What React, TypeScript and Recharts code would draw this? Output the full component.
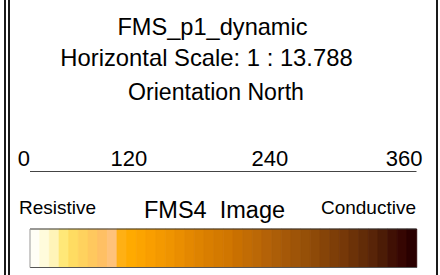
import React from "react";
import { BarChart, Bar, Cell, XAxis, YAxis, ComposedChart, Line } from "recharts";

const titleLines = ["FMS_p1_dynamic", "Horizontal Scale: 1 : 13.788", "Orientation North"];
const scaleTicks = [0, 120, 240, 360];
const legendLeft = "Resistive";
const legendCenter = "FMS4\u00a0 Image";
const legendRight = "Conductive";
const colorBands = [
  "#fffef6", "#fffbdc", "#fff4b8", "#ffe878", "#ffdc62", "#ffd25e", "#ffc85e", "#ffc064",
  "#ffc27a", "#ffb014", "#ffaa00", "#fca400", "#f99e00", "#f49900", "#ef9400", "#ea8e00",
  "#e48800", "#de8300", "#d97e00", "#d47a00", "#d07600", "#c97000", "#c26c04", "#bb6806",
  "#b46208", "#ac5e08", "#a55808", "#9e5408", "#965008", "#8e4a08", "#864408", "#7e3e08",
  "#763808", "#6c3208", "#622c08", "#582408", "#4c1c06", "#401004", "#360602", "#2a0000",
];

const bandData = colorBands.map((color, i) => ({ band: i, value: 1, color }));
const scaleData = scaleTicks.map((deg) => ({ deg, y: 0 }));

const FONT = "'Liberation Sans', Arial, Helvetica, sans-serif";
const tickNudge = [0, -11.5, 0.5, 6];

const ScaleTick = (props: any) => {
  const { x, y, payload, index } = props;
  return (
    <text x={x + (tickNudge[index] ?? 0)} y={y} textAnchor="end" fontSize={22} fontFamily={FONT} fill="#000">
      {payload.value}
    </text>
  );
};

export default function App() {
  return (
    <div style={{ position: "absolute", left: 0, top: 0, width: 440, height: 275, background: "#fff", overflow: "hidden" }}>
      <div style={{ position: "absolute", left: 0, top: 0 }}>
        <BarChart width={440} height={275} data={bandData} margin={{ top: 229, right: 23.5, left: 30, bottom: 7.5 }} barCategoryGap={0}>
          <XAxis dataKey="band" hide />
          <YAxis hide domain={[0, 1]} />
          <Bar dataKey="value" isAnimationActive={false}>
            {bandData.map((d) => (
              <Cell key={d.band} fill={d.color} stroke={d.color} strokeWidth={0.6} />
            ))}
          </Bar>
        </BarChart>
      </div>
      <div style={{ position: "absolute", left: 0, top: 140 }}>
        <ComposedChart width={440} height={60} data={scaleData} margin={{ top: 0, right: 23.5, left: 30, bottom: 0 }}>
          <XAxis
            dataKey="deg"
            type="number"
            domain={[0, 360]}
            ticks={scaleTicks}
            orientation="top"
            height={31.5}
            tickSize={0}
            tickMargin={5.5}
            tickLine={false}
            axisLine={{ stroke: "#444", strokeWidth: 1 }}
            tick={<ScaleTick />}
            interval={0}
          />
          <YAxis hide domain={[0, 1]} />
          <Line dataKey="y" stroke="none" dot={false} isAnimationActive={false} />
        </ComposedChart>
      </div>
      <svg width={440} height={275} style={{ position: "absolute", left: 0, top: 0, pointerEvents: "none" }}>
        <text x={212.5} y={35} textAnchor="middle" fontSize={23.6} fontFamily={FONT} fill="#000">{titleLines[0]}</text>
        <text x={206.5} y={66} textAnchor="middle" fontSize={23.8} fontFamily={FONT} fill="#000">{titleLines[1]}</text>
        <text x={216} y={100} textAnchor="middle" fontSize={23.1} fontFamily={FONT} fill="#000">{titleLines[2]}</text>
        <text x={19} y={214} textAnchor="start" fontSize={19} fontFamily={FONT} fill="#000">{legendLeft}</text>
        <text x={214.5} y={218} textAnchor="middle" fontSize={23.5} fontFamily={FONT} fill="#000">{legendCenter}</text>
        <text x={416} y={214} textAnchor="end" fontSize={19} fontFamily={FONT} fill="#000">{legendRight}</text>
        <line x1={30} y1={229} x2={416.5} y2={229} stroke="#333" strokeWidth={1} />
        <line x1={30} y1={267.5} x2={417} y2={267.5} stroke="#555" strokeWidth={1} />
        <line x1={30} y1={229} x2={30} y2={267.5} stroke="#999" strokeWidth={1} />
        <rect x={4} y={0} width={2} height={275} fill="#1a1a1a" />
        <rect x={8} y={0} width={2} height={275} fill="#1a1a1a" />
        <rect x={436} y={0} width={2} height={275} fill="#1a1a1a" />
      </svg>
    </div>
  );
}
